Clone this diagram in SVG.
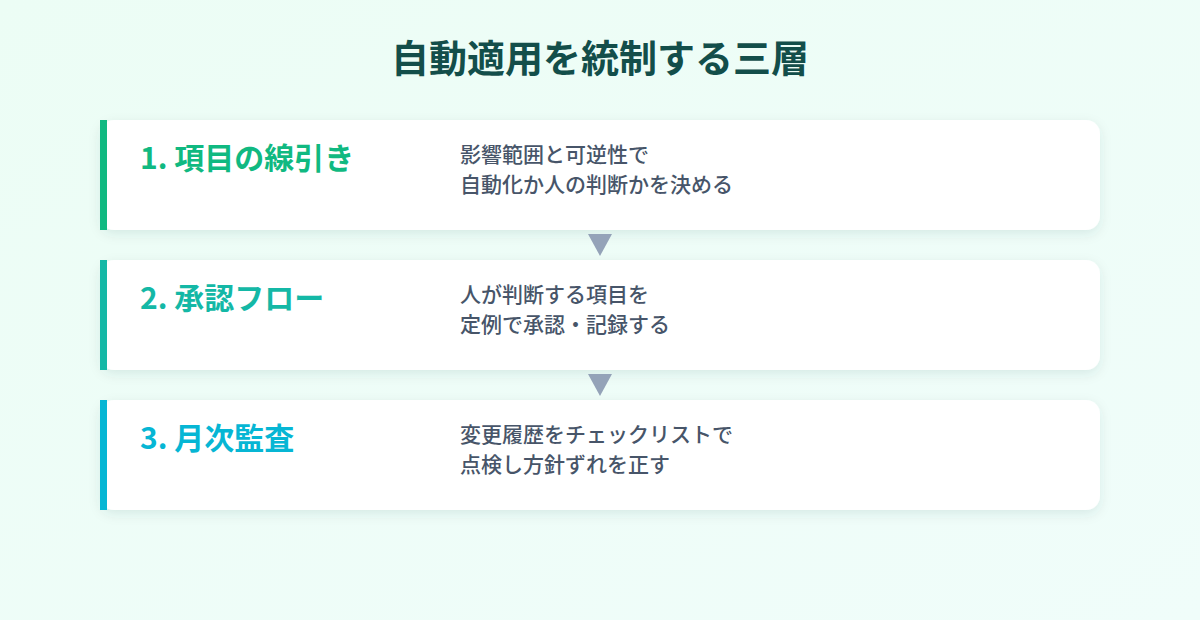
<svg xmlns="http://www.w3.org/2000/svg" width="1200" height="620" viewBox="0 0 1200 620">
<defs>
<linearGradient id="bg" x1="0" y1="0" x2="1" y2="1">
<stop offset="0" stop-color="#ecfdf5"/>
<stop offset="1" stop-color="#f0fdfa"/>
</linearGradient>
<filter id="sh" x="-10%" y="-30%" width="120%" height="160%">
<feDropShadow dx="0" dy="4" stdDeviation="6" flood-color="#134e4a" flood-opacity="0.10"/>
</filter>
</defs>
<style>
.title{font-family:"Noto Sans CJK JP","Noto Sans",sans-serif;font-size:38px;font-weight:700;fill:#134e4a;text-anchor:middle}
.card{fill:#ffffff;filter:url(#sh)}
.head{font-family:"Noto Sans CJK JP","Noto Sans",sans-serif;font-size:30px;font-weight:700}
.desc{font-family:"Noto Sans CJK JP","Noto Sans",sans-serif;font-size:21px;font-weight:500;fill:#475569}
.arrow{fill:#94a3b8}
</style>
<rect width="1200" height="620" fill="url(#bg)"/>
<text class="title" x="600" y="72">自動適用を統制する三層</text>
<g id="node1">
<rect class="card" x="100" y="120" width="1000" height="110" rx="14"/>
<rect x="100" y="120" width="7" height="110" fill="#10b981"/>
<text class="head" x="140" y="169" fill="#10b981">1. 項目の線引き</text>
<text class="desc" x="460" y="162">影響範囲と可逆性で</text>
<text class="desc" x="460" y="192">自動化か人の判断かを決める</text>
</g>
<g id="node2">
<rect class="card" x="100" y="260" width="1000" height="110" rx="14"/>
<rect x="100" y="260" width="7" height="110" fill="#14b8a6"/>
<text class="head" x="140" y="309" fill="#14b8a6">2. 承認フロー</text>
<text class="desc" x="460" y="302">人が判断する項目を</text>
<text class="desc" x="460" y="332">定例で承認・記録する</text>
</g>
<g id="node3">
<rect class="card" x="100" y="400" width="1000" height="110" rx="14"/>
<rect x="100" y="400" width="7" height="110" fill="#06b6d4"/>
<text class="head" x="140" y="449" fill="#06b6d4">3. 月次監査</text>
<text class="desc" x="460" y="442">変更履歴をチェックリストで</text>
<text class="desc" x="460" y="472">点検し方針ずれを正す</text>
</g>
<g id="connectors">
<polygon class="arrow" points="588,234 612,234 600,256"/>
<polygon class="arrow" points="588,374 612,374 600,396"/>
</g>
</svg>
